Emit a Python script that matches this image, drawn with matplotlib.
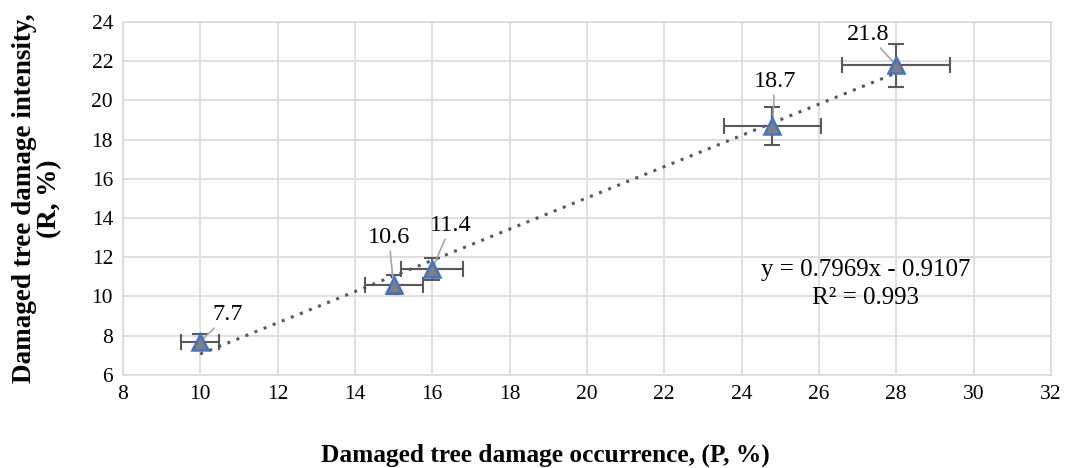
import numpy as np
import matplotlib
matplotlib.use("Agg")
import matplotlib.pyplot as plt

plt.rcParams['font.family'] = ['Liberation Serif', 'DejaVu Serif']

# data
occurrence = [10.0, 15.0, 16.0, 24.8, 28.0]
intensity = [7.7, 10.6, 11.4, 18.7, 21.8]
x_err = [0.5, 0.75, 0.8, 1.25, 1.4]
y_err = [0.4, 0.5, 0.55, 0.95, 1.1]
point_labels = ["7.7", "10.6", "11.4", "18.7", "21.8"]
label_pos = [(10.72, 9.06), (14.88, 12.99), (16.48, 13.6), (24.86, 20.95), (27.27, 23.35)]
slope, intercept = 0.7969, -0.9107
r2 = 0.993

fig = plt.figure(figsize=(10.68, 4.68), dpi=100)
ax = fig.add_axes([0.115, 0.199, 0.869, 0.754])

grid_c = '#d9d9d9'
ax.set_xlim(8, 32)
ax.set_ylim(6, 24)
ax.set_xticks(np.arange(8, 33, 2))
ax.set_yticks(np.arange(6, 25, 2))
ax.grid(True, color=grid_c, linewidth=1.2)
ax.set_axisbelow(True)
for s in ax.spines.values():
    s.set_color(grid_c)
    s.set_linewidth(1.2)
ax.tick_params(length=0, labelsize=15.5, pad=7)

# trendline
tx = np.array([min(occurrence), max(occurrence)])
ax.plot(tx, slope * tx + intercept, linestyle=(0, (1, 2.2)), color='#595959',
        linewidth=2.2, zorder=2)

ax.errorbar(occurrence, intensity, xerr=x_err, yerr=y_err, fmt='none',
            ecolor='#595959', elinewidth=1.5, capsize=6, capthick=1.5, zorder=3)
ax.plot(occurrence, intensity, linestyle='none', marker='^', markersize=11,
        markerfacecolor='#7f7f7f', markeredgecolor='#4472c4', markeredgewidth=1.8,
        zorder=4)

for lab, (px, py), (lx, ly) in zip(point_labels, zip(occurrence, intensity), label_pos):
    ax.annotate(lab, xy=(px, py), xytext=(lx, ly), ha='center', va='center',
                fontsize=17.5,
                arrowprops=dict(arrowstyle='-', color='#a6a6a6', linewidth=1.2,
                                shrinkA=0, shrinkB=0))

ax.text(27.2, 11.35, f"y = {slope}x - {abs(intercept)}", ha='center', va='center', fontsize=18)
ax.text(27.2, 9.9, f"R² = {r2}", ha='center', va='center', fontsize=18)

ax.set_xlabel("Damaged tree damage occurrence, (P, %)", fontsize=18.3,
              fontweight='bold')
ax.xaxis.set_label_coords(0.455, -0.195)
ax.set_ylabel("Damaged tree damage intensity,\n(R, %)", fontsize=19.5,
              fontweight='bold', linespacing=1.0)
ax.yaxis.set_label_coords(-0.065, 0.5)

plt.savefig("out.png", dpi=100)
